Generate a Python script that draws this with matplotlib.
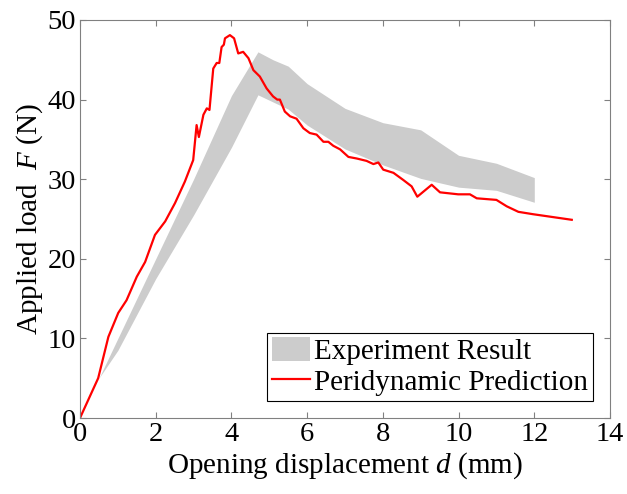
import matplotlib.pyplot as plt

plt.rcParams['font.family'] = 'Liberation Serif'
plt.rcParams['mathtext.fontset'] = 'custom'
plt.rcParams['mathtext.it'] = 'Liberation Serif:italic'
plt.rcParams['mathtext.rm'] = 'Liberation Serif'

# Experimental band (upper and lower bounds)
exp_x = [0.5, 1, 2, 3, 4, 4.7, 5.1, 5.5, 6, 7, 8, 9, 10, 11, 12]
exp_upper = [5, 10, 20, 30, 40.5, 46, 45, 44.2, 42, 38.9, 37.1, 36.2, 33, 32, 30.2]
exp_lower = [5, 8.5, 17.5, 25.5, 34, 40.6, 39.7, 38.8, 36.8, 33.8, 31.8, 30.1, 29, 28.6, 27.1]

# Peridynamic prediction
pd_x = [0, 0.48, 0.62, 0.75, 1.01, 1.23, 1.5, 1.72, 1.98, 2.25, 2.51, 2.77, 2.99,
        3.08, 3.14, 3.26, 3.35, 3.42, 3.52, 3.61, 3.68, 3.74, 3.8, 3.83, 3.96,
        4.07, 4.18, 4.31, 4.45, 4.58, 4.75, 4.93, 5.1, 5.21, 5.28, 5.41, 5.55,
        5.72, 5.9, 6.07, 6.25, 6.43, 6.56, 6.69, 6.87, 7.09, 7.31, 7.57, 7.75,
        7.88, 8.01, 8.28, 8.54, 8.76, 8.91, 9.29, 9.51, 9.99, 10.3, 10.48, 11.0,
        11.27, 11.58, 11.97, 12.99]
pd_y = [0, 5.0, 7.7, 10.2, 13.2, 14.8, 17.75, 19.6, 23.0, 24.7, 27.0, 29.7, 32.4,
        36.8, 35.3, 38.1, 38.9, 38.7, 43.9, 44.6, 44.6, 46.6, 46.9, 47.7, 48.1,
        47.7, 45.8, 46.0, 45.2, 43.7, 42.9, 41.4, 40.4, 40.0, 40.0, 38.5, 37.9,
        37.6, 36.4, 35.8, 35.6, 34.7, 34.7, 34.2, 33.75, 32.8, 32.6, 32.3, 31.9,
        32.1, 31.2, 30.8, 29.9, 29.1, 27.8, 29.3, 28.35, 28.1, 28.1, 27.6, 27.4,
        26.6, 25.9, 25.6, 24.9]

fig = plt.figure(figsize=(6.27, 4.94), dpi=100)
ax = fig.add_axes([80/627, 1-418/494, 530/627, 398/494])

ax.fill_between(exp_x, exp_lower, exp_upper, color='#cccccc', linewidth=0,
                label='Experiment Result')
ax.plot(pd_x, pd_y, color='red', linewidth=1.6, label='Peridynamic Prediction')

ax.set_xlim(0, 14)
ax.set_ylim(0, 50)
ax.set_xticks(range(0, 15, 2))
ax.set_yticks(range(0, 51, 10))
ax.tick_params(direction='in', top=True, right=True, labelsize=20.5,
               color='#808080', length=4, pad=3)
for s in ax.spines.values():
    s.set_color('#808080')

ax.set_xlabel('Opening displacement $d$ (mm)', fontsize=21, labelpad=2)
ax.set_ylabel('Applied load  $F$ (N)', fontsize=21, labelpad=2)

leg = ax.legend(loc='lower right', fontsize=21, fancybox=False, framealpha=1,
                edgecolor='black', borderaxespad=0.6, handlelength=1.3,
                handleheight=0.9, handletextpad=0.15, borderpad=0.15,
                labelspacing=0.1)
leg.get_frame().set_linewidth(0.8)

fig.savefig('out.png', dpi=100)
